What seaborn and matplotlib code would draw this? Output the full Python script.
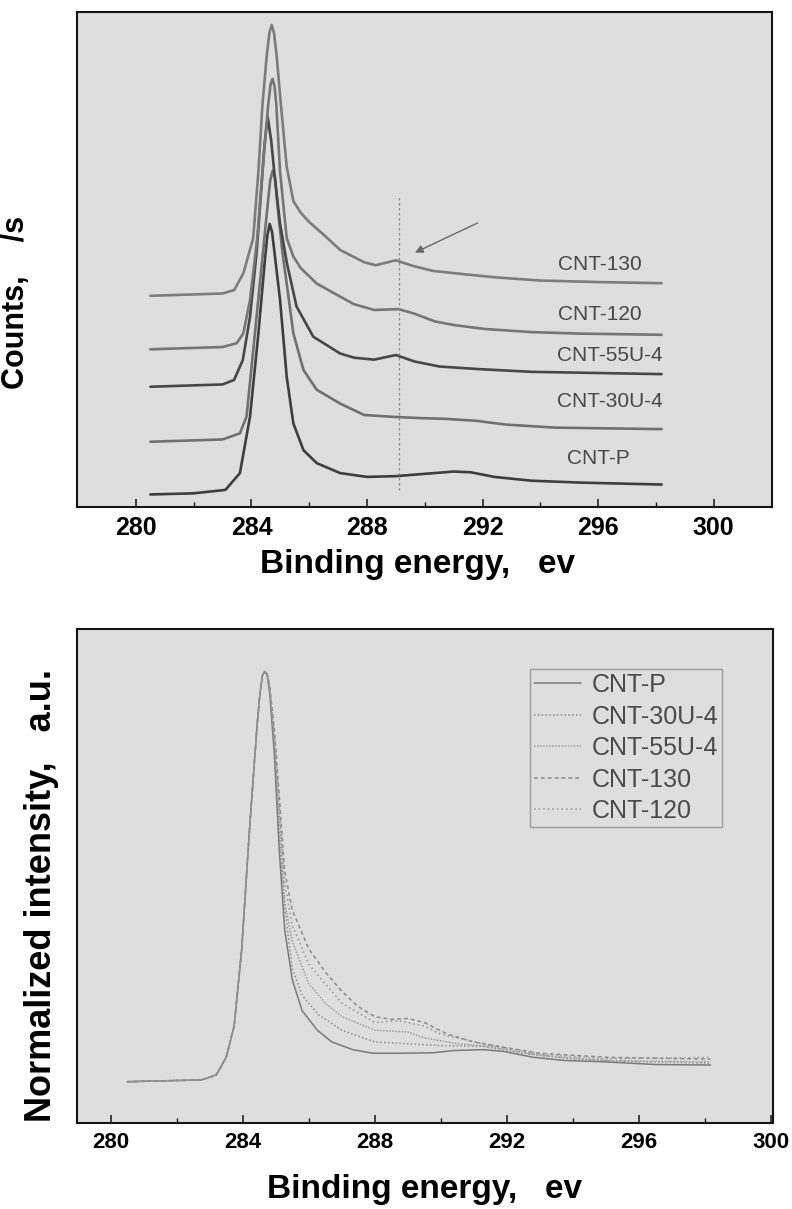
import numpy as np
import pandas as pd
import seaborn as sns
import matplotlib.pyplot as plt

# ---- top panel: stacked C1s spectra (counts, arbitrary offset units) ----
e_p = [280.5, 282.0, 283.1, 283.6, 283.95, 284.24, 284.47, 284.55, 284.63, 284.71, 284.79,
       284.99, 285.22, 285.45, 285.8, 286.26, 287.07, 288.0, 289.0, 290.0, 291.0, 291.6,
       292.4, 293.7, 295.4, 298.2]
c_p = [32, 35, 44, 88, 236, 454, 650, 710, 740, 720, 670,
       541, 340, 218, 148, 114, 88, 78, 80, 86, 92, 90,
       78, 68, 63, 58]

e_30u = [280.5, 283.0, 283.6, 283.83, 284.12, 284.4, 284.56, 284.65, 284.74, 284.82, 284.9,
         285.07, 285.22, 285.45, 285.8, 286.26, 287.07, 287.9, 288.95, 289.8, 290.7, 291.75,
         292.8, 294.5, 298.2]
c_30u = [170, 176, 192, 236, 454, 667, 790, 855, 880, 860, 790,
         667, 584, 454, 358, 306, 270, 240, 235, 232, 230, 225,
         215, 207, 203]

e_55u = [280.5, 283.0, 283.4, 283.7, 283.95, 284.18, 284.3, 284.45, 284.56, 284.68, 284.81,
         284.99, 285.22, 285.56, 286.14, 287.07, 287.55, 288.25, 289.0, 289.65, 290.5, 291.9,
         293.7, 298.2]
c_55u = [314, 320, 332, 384, 497, 667, 790, 947, 1021, 960, 860,
         740, 640, 524, 445, 401, 390, 385, 397, 380, 367, 360,
         353, 347]

e_120 = [280.5, 283.0, 283.49, 283.72, 283.95, 284.2, 284.38, 284.58, 284.66, 284.73, 284.8,
         284.86, 284.99, 285.22, 285.45, 285.7, 286.26, 287.07, 287.55, 288.25, 289.1, 289.65,
         290.35, 291.05, 292.1, 293.7, 295.4, 298.2]
c_120 = [412, 418, 428, 454, 541, 703, 877, 1052, 1105, 1120, 1100,
         1052, 877, 703, 655, 625, 584, 550, 530, 515, 517, 505,
         485, 475, 465, 457, 453, 450]

e_130 = [280.5, 283.0, 283.4, 283.72, 284.06, 284.24, 284.38, 284.53, 284.62, 284.7, 284.78,
         284.87, 285.02, 285.22, 285.45, 285.7, 286.0, 286.5, 287.07, 287.9, 288.3, 289.0,
         289.6, 290.3, 291.3, 292.5, 294.0, 296.0, 298.2]
c_130 = [552, 558, 567, 611, 703, 877, 1052, 1182, 1240, 1261, 1240,
         1182, 1052, 890, 800, 770, 745, 712, 672, 640, 632, 645,
         630, 617, 609, 600, 592, 588, 585]

top_names = ["CNT-P", "CNT-30U-4", "CNT-55U-4", "CNT-120", "CNT-130"]
top_colors = ["#3e3e3e", "#707070", "#474747", "#767676", "#7c7c7c"]
label_x = [296.0, 296.4, 296.4, 296.05, 296.05]
label_y = [125, 275, 395, 502, 635]

marker_ev = 289.12
marker_span = (45, 816)
arrow_tail = (291.92, 746)
arrow_head = (289.57, 662)

tick_vals = [280, 284, 288, 292, 296, 300]
minor_vals = [282, 286, 290, 294, 298]

# ---- bottom panel: normalized spectra ----
n_e_p = [280.5, 282.75, 283.2, 283.5, 283.74, 283.97, 284.2, 284.43, 284.52, 284.6, 284.67,
         284.74, 284.82, 284.96, 285.11, 285.27, 285.5, 285.8, 286.26, 286.7, 287.33, 287.94,
         288.85, 289.77, 290.4, 291.3, 291.9, 292.8, 293.74, 294.96, 296.5, 298.17]
n_v_p = [0.092, 0.096, 0.107, 0.146, 0.215, 0.386, 0.644, 0.876, 0.950, 0.992, 1.0,
         0.992, 0.950, 0.815, 0.601, 0.429, 0.318, 0.249, 0.206, 0.180, 0.163, 0.155,
         0.155, 0.156, 0.161, 0.163, 0.159, 0.146, 0.139, 0.136, 0.130, 0.129]

n_e_30u = [280.5, 282.75, 283.2, 283.5, 283.74, 283.97, 284.2, 284.43, 284.52, 284.6, 284.67,
           284.74, 284.82, 284.96, 285.11, 285.27, 285.5, 285.8, 286.3, 287.0, 288.0, 289.0,
           290.0, 291.3, 292.5, 294.0, 296.0, 298.17]
n_v_30u = [0.092, 0.096, 0.107, 0.146, 0.215, 0.386, 0.644, 0.876, 0.950, 0.992, 1.0,
           0.993, 0.955, 0.83, 0.64, 0.48, 0.343, 0.283, 0.240, 0.206, 0.180, 0.176,
           0.172, 0.170, 0.155, 0.142, 0.136, 0.133]

n_e_55u = [280.5, 282.75, 283.2, 283.5, 283.74, 283.97, 284.2, 284.43, 284.52, 284.6, 284.67,
           284.74, 284.82, 284.96, 285.11, 285.27, 285.5, 286.0, 286.5, 287.0, 288.0, 289.0,
           289.5, 290.5, 291.5, 293.0, 295.0, 298.17]
n_v_55u = [0.092, 0.096, 0.107, 0.146, 0.215, 0.386, 0.644, 0.876, 0.950, 0.992, 1.0,
           0.994, 0.96, 0.85, 0.68, 0.489, 0.403, 0.309, 0.266, 0.236, 0.206, 0.202,
           0.189, 0.176, 0.170, 0.150, 0.139, 0.136]

n_e_130 = [280.5, 282.75, 283.2, 283.5, 283.74, 283.97, 284.2, 284.43, 284.52, 284.6, 284.67,
           284.74, 284.82, 284.96, 285.11, 285.27, 285.5, 286.0, 286.5, 287.0, 287.5, 288.0,
           288.5, 289.0, 289.5, 290.2, 291.0, 292.0, 293.0, 295.0, 298.17]
n_v_130 = [0.092, 0.096, 0.107, 0.146, 0.215, 0.386, 0.644, 0.876, 0.950, 0.992, 1.0,
           0.995, 0.965, 0.87, 0.72, 0.558, 0.472, 0.386, 0.335, 0.292, 0.258, 0.236,
           0.230, 0.232, 0.223, 0.197, 0.180, 0.167, 0.155, 0.146, 0.142]

n_e_120 = [280.5, 282.75, 283.2, 283.5, 283.74, 283.97, 284.2, 284.43, 284.52, 284.6, 284.67,
           284.74, 284.82, 284.96, 285.11, 285.27, 285.5, 286.0, 287.0, 288.0, 288.7, 289.5,
           290.0, 290.5, 291.5, 293.0, 295.0, 298.17]
n_v_120 = [0.092, 0.096, 0.107, 0.146, 0.215, 0.386, 0.644, 0.876, 0.950, 0.992, 1.0,
           0.995, 0.962, 0.86, 0.70, 0.532, 0.438, 0.352, 0.266, 0.223, 0.227, 0.215,
           0.197, 0.189, 0.173, 0.153, 0.143, 0.146]

bottom_names = ["CNT-P", "CNT-30U-4", "CNT-55U-4", "CNT-130", "CNT-120"]
bottom_styles = ["-", (0, (1, 1.5)), (0, (1, 1)), (0, (2.5, 2)), (0, (1, 2))]
bottom_colors = ["#7a7a7a", "#8c8c8c", "#9a9a9a", "#8a8a8a", "#959595"]

sns.set_theme(style="ticks")
plt.rcParams["font.family"] = ["Liberation Sans", "DejaVu Sans"]
plt.rcParams["font.weight"] = "bold"
bg = "#dedede"
ink = "#151515"

fig = plt.figure(figsize=(7.92, 12.09), dpi=100)
fig.patch.set_facecolor("white")
ax1 = fig.add_axes([0.0976, 0.5809, 0.8771, 0.4092])
ax2 = fig.add_axes([0.0976, 0.0709, 0.8788, 0.4089])

# top panel
top_e = [e_p, e_30u, e_55u, e_120, e_130]
top_c = [c_p, c_30u, c_55u, c_120, c_130]
for name, ee, cc, col in zip(top_names, top_e, top_c, top_colors):
    df = pd.DataFrame({"energy": ee, "counts": cc})
    sns.lineplot(data=df, x="energy", y="counts", ax=ax1, color=col, linewidth=1.9)

for name, lx, ly in zip(top_names, label_x, label_y):
    ax1.text(lx, ly, name, ha="center", va="center", fontsize=15,
             fontweight="normal", color="#474747")

ax1.vlines(marker_ev, marker_span[0], marker_span[1], colors="#8a8a8a",
           linestyles=(0, (2, 2)), linewidth=0.9)
ax1.annotate("", xy=arrow_head, xytext=arrow_tail,
             arrowprops=dict(arrowstyle="-|>", color="#6a6a6a", lw=1.0, mutation_scale=12))

# bottom panel
bot_e = [n_e_p, n_e_30u, n_e_55u, n_e_130, n_e_120]
bot_v = [n_v_p, n_v_30u, n_v_55u, n_v_130, n_v_120]
for name, ee, vv, ls, col in zip(bottom_names, bot_e, bot_v, bottom_styles, bottom_colors):
    df = pd.DataFrame({"energy": ee, "intensity": vv})
    sns.lineplot(data=df, x="energy", y="intensity", ax=ax2, color=col,
                 linewidth=1.1, linestyle=ls, label=name)

leg = ax2.legend(loc="upper right", bbox_to_anchor=(0.926, 0.918), borderaxespad=0,
                 prop={"size": 18, "weight": "normal"}, frameon=True, fancybox=False,
                 labelspacing=0.3, handlelength=1.9, handletextpad=0.4, borderpad=0.15,
                 labelcolor="#4a4a4a")
leg.get_frame().set_edgecolor("#8a8a8a")
leg.get_frame().set_facecolor(bg)
leg.get_frame().set_linewidth(1.0)

for ax, tsize, pad in [(ax1, 18, 7), (ax2, 16, 6)]:
    ax.set_facecolor(bg)
    ax.set_xticks(tick_vals)
    ax.set_xticks(minor_vals, minor=True)
    ax.tick_params(axis="x", which="major", direction="in", length=6, width=1.1,
                   color=ink, labelsize=tsize, labelcolor="black", pad=pad, top=False)
    ax.tick_params(axis="x", which="minor", direction="in", length=3.5, width=1.0,
                   color=ink, top=False)
    ax.tick_params(axis="y", left=False, labelleft=False)
    for sp in ax.spines.values():
        sp.set_visible(True)
        sp.set_color(ink)
        sp.set_linewidth(1.5)

ax1.set_xlim(277.97, 302.02)
ax1.set_ylim(0, 1295)
ax2.set_xlim(278.99, 300.07)
ax2.set_ylim(0, 1.094)

ax1.set_xlabel("Binding energy,   ev", fontsize=24, fontweight="bold", color="black")
ax1.xaxis.set_label_coords(0.49, -0.0855)
ax1.set_ylabel("Counts,    /s", fontsize=22, fontweight="bold", color="black")
ax1.yaxis.label.set_va("center")
ax1.yaxis.set_label_coords(-0.088, 0.412)

ax2.set_xlabel("Binding energy,   ev", fontsize=24, fontweight="bold", color="black")
ax2.xaxis.set_label_coords(0.4996, -0.1026)
ax2.set_ylabel("Normalized intensity,   a.u.", fontsize=26, fontweight="bold", color="black")
ax2.yaxis.label.set_va("center")
ax2.yaxis.set_label_coords(-0.052, 0.46)

fig.savefig("out.png", dpi=100, facecolor="white")
